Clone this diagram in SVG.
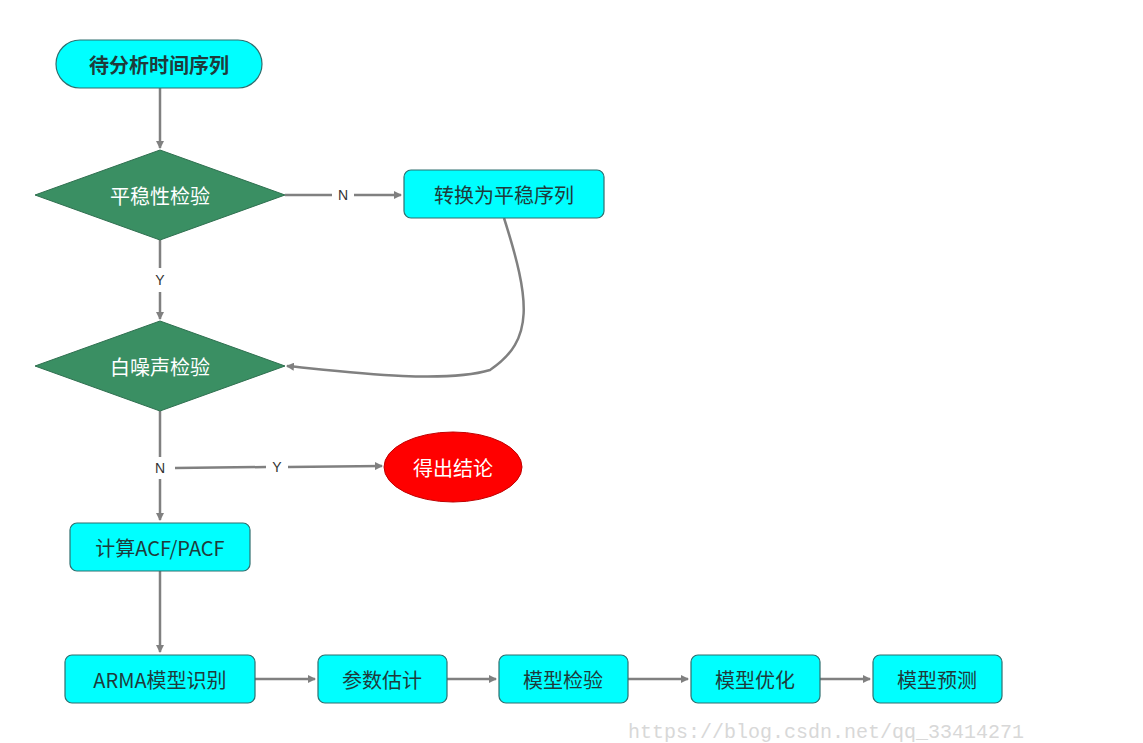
<svg xmlns="http://www.w3.org/2000/svg" width="1143" height="743" viewBox="0 0 1143 743">
<style>
.box{fill:#00ffff;stroke:#2f6f6f;stroke-width:1.2}
.dia{fill:#3a8f63;stroke:#2f7050;stroke-width:1}
.t{font-family:"Noto Sans CJK SC","Liberation Sans",sans-serif;font-size:20px;text-anchor:middle;dominant-baseline:central;fill:#1f3b3b}
.tw{fill:#ffffff}
.lbl{font-family:"Liberation Sans","Noto Sans",sans-serif;font-size:14px;text-anchor:middle;dominant-baseline:central;fill:#333}
.c{fill:none;stroke:#808080;stroke-width:2.5}
</style>
<defs><marker id="a" markerWidth="8" markerHeight="8" refX="7" refY="4" orient="auto" markerUnits="userSpaceOnUse" viewBox="0 0 8 8"><path d="M0,0 L8,4 L0,8 z" fill="#808080"/></marker></defs>
<rect width="1143" height="743" fill="#fff"/>
<g id="connectors">
<path class="c" d="M160,88 V148" marker-end="url(#a)"/>
<path class="c" d="M285,195 H332 M354,195 H401" marker-end="url(#a)"/>
<path class="c" d="M160,240 V268 M160,292 V319" marker-end="url(#a)"/>
<path class="c" d="M504,218 C530,300 535,340 490,370 C440,385 330,370 287,366" marker-end="url(#a)"/>
<path class="c" d="M160,411 V457 M160,479 V520" marker-end="url(#a)"/>
<path class="c" d="M175,468 L266,467 M288,467 L382,466" marker-end="url(#a)"/>
<path class="c" d="M160,571 V652" marker-end="url(#a)"/>
<path class="c" d="M255,679 H315" marker-end="url(#a)"/>
<path class="c" d="M447,679 H496" marker-end="url(#a)"/>
<path class="c" d="M628,679 H688" marker-end="url(#a)"/>
<path class="c" d="M820,679 H870" marker-end="url(#a)"/>
<text class="lbl" x="343" y="195">N</text>
<text class="lbl" x="160" y="280">Y</text>
<text class="lbl" x="160" y="468">N</text>
<text class="lbl" x="277" y="467">Y</text>
</g>
<g id="start"><rect class="box" x="56" y="40" width="206" height="48" rx="24"/><text class="t" x="159" y="64" font-weight="bold">待分析时间序列</text></g>
<g id="d1"><polygon class="dia" points="160,150 285,195 160,240 35,195"/><text class="t tw" x="160" y="195">平稳性检验</text></g>
<g id="conv"><rect class="box" x="404" y="170" width="200" height="48" rx="7"/><text class="t" x="504" y="194">转换为平稳序列</text></g>
<g id="d2"><polygon class="dia" points="160,321 285,366 160,411 35,366"/><text class="t tw" x="160" y="366">白噪声检验</text></g>
<g id="end"><ellipse cx="453" cy="467" rx="69" ry="35" fill="#ff0000" stroke="#c00000"/><text class="t tw" x="453" y="467">得出结论</text></g>
<g id="acf"><rect class="box" x="70" y="523" width="180" height="48" rx="7"/><text class="t" x="160" y="547">计算ACF/PACF</text></g>
<g id="arma"><rect class="box" x="65" y="655" width="190" height="48" rx="7"/><text class="t" x="160" y="679">ARMA模型识别</text></g>
<g id="est"><rect class="box" x="318" y="655" width="129" height="48" rx="7"/><text class="t" x="382" y="679">参数估计</text></g>
<g id="chk"><rect class="box" x="499" y="655" width="129" height="48" rx="7"/><text class="t" x="563" y="679">模型检验</text></g>
<g id="opt"><rect class="box" x="691" y="655" width="129" height="48" rx="7"/><text class="t" x="755" y="679">模型优化</text></g>
<g id="pred"><rect class="box" x="873" y="655" width="129" height="48" rx="7"/><text class="t" x="937" y="679">模型预测</text></g>
<text x="628" y="738" font-family="Liberation Mono,monospace" font-size="20" fill="#d8d8d8">https://blog.csdn.net/qq_33414271</text>
</svg>
